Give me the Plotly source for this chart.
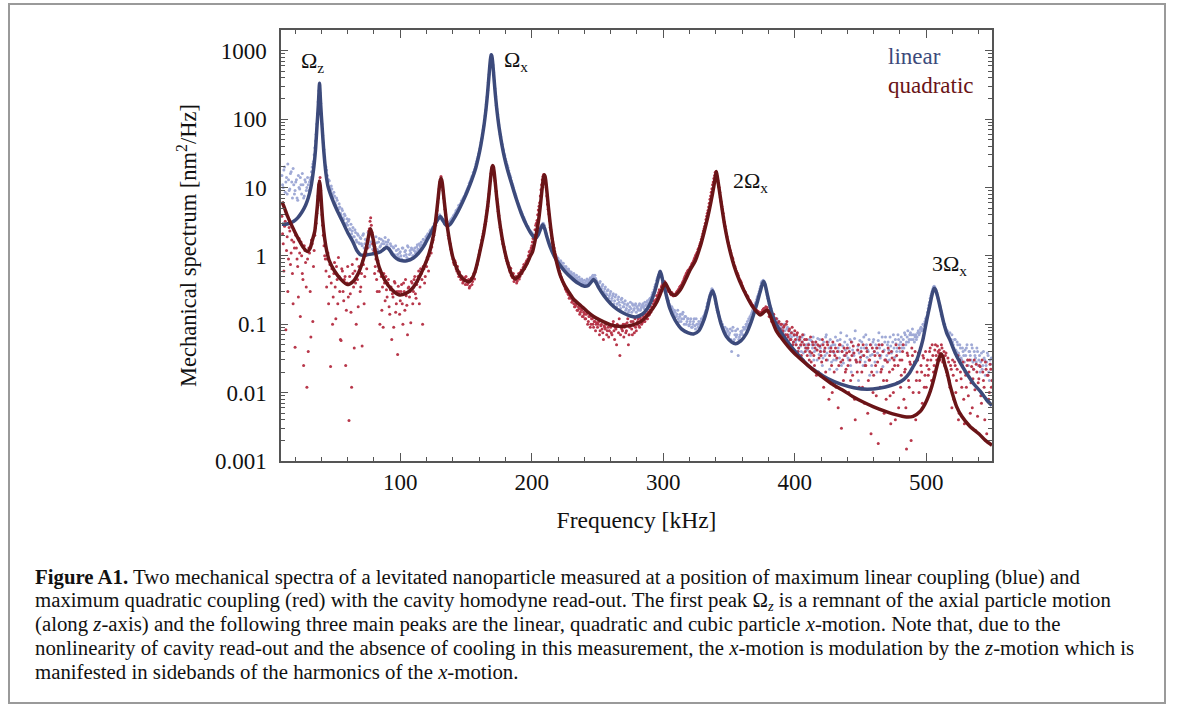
import plotly.graph_objects as go

# ---------------- data ----------------
# fitted curve, linear coupling (blue)
lin_f = [10, 13, 16, 19, 22, 25, 28, 30, 32, 34, 35.5, 36.7, 37.7, 38.2, 38.6, 39.0, 39.5, 40.5, 41.8, 43.5,
         45, 48, 52, 56, 60, 64, 67, 70, 74, 78, 82, 85, 87.5, 89.5, 91.5, 94, 97, 100, 105, 110,
         114, 118, 121, 124, 126.5, 128.5, 130.6, 132.5, 134.5, 136, 138, 140, 144, 148, 151, 154.3, 157.3, 159.3, 161.3, 163.3,
         164.3, 165.3, 166.3, 167.3, 167.8, 168.3, 168.8, 169.3, 169.8, 170.3, 170.8, 171.3, 172.3, 173.3, 174.3, 175.3, 177.3, 179.3, 181.3, 184.3,
         188, 192, 196, 200, 202.7, 205, 207, 208.3, 209.8, 211.5, 214, 217, 220, 225, 230, 235, 240, 243, 245.5, 247,
         248.5, 251, 255, 260, 265, 270, 275, 279, 284, 288, 291, 293.5, 295.5, 296.8, 297.7, 298.6, 300, 302, 305, 309,
         314, 319, 323, 327, 330.5, 333.5, 335.7, 337.5, 339, 341, 344, 348, 352, 355, 359, 363, 367, 370.5, 373.5, 375.4,
         376.3, 377.3, 379, 381, 384, 388, 392, 397, 403, 410, 417, 425, 435, 445, 455, 465, 473, 479, 483, 487,
         490, 492.8, 495, 497.5, 500.4, 502.5, 504, 505.2, 506, 507, 508.5, 510.5, 513, 515.5, 518, 522, 526, 530.8, 536, 541,
         546, 550]
lin_v = [2.9, 2.9, 3.0, 3.2, 3.6, 4.3, 5.5, 7, 10, 18, 35, 80, 160, 250, 335, 250, 160, 80, 35, 16,
         10.5, 7, 4.6, 3.2, 2.2, 1.6, 1.2, 1.03, 1.03, 1.06, 1.1, 1.15, 1.25, 1.33, 1.25, 1.05, 0.92, 0.86, 0.85, 0.93,
         1.1, 1.4, 1.8, 2.3, 2.9, 3.4, 3.75, 3.3, 2.85, 2.75, 2.9, 3.3, 4.5, 6.5, 8.8, 12.8, 19, 27, 42, 72,
         100, 146, 230, 390, 514, 664, 808, 870, 808, 664, 514, 390, 230, 146, 100, 72, 42, 27, 19, 12,
         7, 4.2, 2.8, 2.05, 1.8, 2.05, 2.55, 2.85, 2.5, 1.9, 1.35, 1.0, 0.8, 0.6, 0.48, 0.4, 0.36, 0.37, 0.42, 0.45,
         0.42, 0.34, 0.26, 0.2, 0.165, 0.145, 0.132, 0.128, 0.14, 0.17, 0.22, 0.3, 0.42, 0.53, 0.59, 0.53, 0.4, 0.28, 0.17, 0.115,
         0.085, 0.075, 0.072, 0.08, 0.11, 0.17, 0.26, 0.31, 0.26, 0.17, 0.1, 0.066, 0.055, 0.052, 0.057, 0.072, 0.11, 0.18, 0.29, 0.39,
         0.42, 0.39, 0.28, 0.19, 0.12, 0.085, 0.065, 0.048, 0.035, 0.025, 0.02, 0.016, 0.0133, 0.0118, 0.0112, 0.0117, 0.0127, 0.014, 0.0156, 0.019,
         0.024, 0.03, 0.04, 0.06, 0.116, 0.18, 0.25, 0.31, 0.337, 0.32, 0.26, 0.18, 0.11, 0.075, 0.059, 0.038, 0.027, 0.019, 0.0135, 0.0105,
         0.0078, 0.0065]

# fitted curve, quadratic coupling (red)
quad_f = [10, 12, 14, 17, 20, 23, 26, 29.3, 31.5, 33, 35, 36, 37, 37.6, 38.1, 38.6, 39.1, 39.6, 40.2, 41,
          42.5, 44, 46, 50, 55, 59.7, 64, 68, 71, 73, 74.8, 76, 77.4, 78.8, 80, 81.5, 84, 88, 93, 98.9,
          104, 109, 113, 117, 120, 122, 124, 126, 127, 128, 129, 130, 130.5, 131, 131.5, 132, 133, 134, 135, 136,
          138, 140, 143, 146, 149, 152.6, 155, 157, 159.3, 161.3, 163.3, 164.3, 165.3, 166.3, 167.3, 168.3, 169.3, 169.8, 170.3, 170.8,
          171.3, 172.3, 173.3, 174.3, 175.3, 177.3, 179.3, 182.3, 185, 187.6, 190, 193, 196, 199, 200.6, 202.6, 204.6, 205.6, 206.6, 207.6,
          208.6, 209.1, 209.6, 210.1, 210.6, 211.6, 212.6, 213.6, 214.6, 216.6, 218.6, 221.6, 225, 229, 232, 237, 242, 247, 252, 260,
          268, 276, 283, 288, 292, 295, 297.5, 299.5, 301.5, 303.5, 306, 309, 313, 317, 320.5, 324.4, 328.1, 331, 334, 336.5,
          338.5, 339.7, 340.4, 341.3, 342.5, 344.5, 347, 350, 354, 358, 363.6, 368, 373.7, 376.5, 379, 381, 383, 386, 389, 395,
          400, 407, 414, 420, 428, 436, 444, 452, 460, 468, 476, 485, 490, 495.3, 499, 502, 504.2, 506.5, 508.5, 510,
          511.3, 512.5, 514, 516, 518, 520, 523, 527, 533.3, 540, 545, 550]
quad_v = [6.2, 5.0, 3.9, 2.9, 2.2, 1.7, 1.35, 1.16, 1.3, 1.65, 2.3, 3.5, 5.5, 8, 10.7, 12.2, 10.7, 8, 5.3, 3.3,
          1.8, 1.2, 0.85, 0.6, 0.45, 0.38, 0.42, 0.55, 0.78, 1.05, 1.5, 2.0, 2.5, 2.0, 1.5, 1.05, 0.68, 0.45, 0.33, 0.27,
          0.28, 0.33, 0.43, 0.62, 0.85, 1.1, 1.55, 2.4, 3.4, 5, 7.6, 11.4, 12.9, 13.7, 12.9, 11.4, 7.6, 5, 3.4, 2.5,
          1.45, 0.95, 0.65, 0.5, 0.44, 0.42, 0.48, 0.6, 0.9, 1.35, 2.05, 2.7, 3.6, 5.0, 7.4, 11.6, 17.4, 20, 21, 20,
          17.4, 11.5, 7.3, 4.9, 3.4, 1.9, 1.2, 0.72, 0.52, 0.46, 0.5, 0.6, 0.75, 1.0, 1.15, 1.7, 2.8, 3.8, 5.6, 8.6,
          12.8, 14.6, 15.3, 14.6, 12.8, 8.4, 5.3, 3.5, 2.4, 1.3, 0.85, 0.52, 0.37, 0.28, 0.23, 0.19, 0.155, 0.13, 0.115, 0.098,
          0.093, 0.097, 0.11, 0.135, 0.17, 0.21, 0.27, 0.34, 0.4, 0.34, 0.28, 0.265, 0.32, 0.45, 0.63, 0.85, 1.37, 2.2, 3.8, 6.5,
          10.5, 14.5, 17.1, 13.5, 9.5, 5.2, 2.6, 1.35, 0.7, 0.43, 0.254, 0.18, 0.137, 0.15, 0.16, 0.14, 0.11, 0.08, 0.066, 0.047,
          0.037, 0.028, 0.0215, 0.0175, 0.0135, 0.011, 0.0088, 0.0073, 0.0062, 0.0054, 0.0048, 0.0044, 0.0045, 0.0053, 0.0068, 0.0092, 0.0123, 0.018, 0.026, 0.033,
          0.037, 0.034, 0.026, 0.0193, 0.013, 0.0095, 0.0063, 0.0045, 0.0032, 0.0025, 0.002, 0.0017]

# measured spectra: one value per kHz from 10 kHz, and a second sample set offset by half a kHz
lin_meas = [
    15, 10, 20, 12, 8, 13, 9.5, 17, 7, 11,
    9, 13, 6.5, 10, 14, 8, 11, 7.5, 12, 10,
    11, 12, 14, 20, 24, 38, 60, 120, 260, 240,
    120, 58, 36, 21, 18, 12, 12.5, 9, 9.5, 7,
    7.5, 5.5, 6.5, 4.8, 5.2, 4.0, 4.6, 3.4, 3.9, 3.0,
    2.8, 3.4, 2.4, 2.1, 2.6, 1.9, 2.2, 1.6, 2.0, 1.5,
    1.8, 1.4, 2.1, 1.5, 1.7, 1.3, 1.9, 1.45, 1.6, 1.25,
    1.7, 1.35, 1.55, 1.2, 1.8, 1.4, 1.5, 1.65, 1.3, 1.6,
    1.45, 1.7, 1.25, 1.4, 1.1, 1.3, 1.0, 1.2, 1.05, 0.95,
    1.15, 0.9, 1.3, 1.0, 1.2, 0.95, 1.35, 1.05, 1.1, 1.25,
    1.0, 1.3, 1.15, 1.45, 1.2, 1.4, 1.6, 1.3, 1.7, 1.5,
    1.8, 2.1, 1.9, 2.4, 2.3, 2.6, 3.0, 2.8, 3.3, 3.6,
    4.0, 3.6, 3.3, 3.4, 3.0, 2.9, 3.1, 2.8, 3.2, 3.3,
    3.5, 3.8, 4.3, 4.4, 5.0, 5.3, 5.9, 6.2, 7.0, 7.6,
    8.5, 9.5, 10.5, 12, 13.5, 15, 17, 20, 24, 28,
    33, 41, 52, 69, 95, 135, 210, 345, 600, 880,
    740, 480, 280, 160, 118, 82, 60, 47, 37, 31,
    26, 22, 19.5, 16, 14, 11.5, 10, 8.5, 7.5, 6.4,
    5.7, 5.0, 4.5, 3.9, 3.6, 3.2, 2.8, 2.7, 2.4, 2.3,
    2.2, 2.0, 1.95, 1.9, 2.0, 2.2, 2.4, 2.7, 2.9, 2.95,
    2.5, 2.1, 1.8, 1.6, 1.45, 1.3, 1.2, 1.15, 1.0, 0.98,
    0.92, 0.8, 0.85, 0.72, 0.78, 0.66, 0.7, 0.6, 0.64, 0.55,
    0.58, 0.5, 0.55, 0.47, 0.52, 0.44, 0.49, 0.42, 0.46, 0.4,
    0.44, 0.39, 0.46, 0.41, 0.45, 0.47, 0.5, 0.46, 0.52, 0.44,
    0.4, 0.36, 0.42, 0.33, 0.38, 0.3, 0.35, 0.27, 0.32, 0.26,
    0.3, 0.24, 0.28, 0.22, 0.27, 0.2, 0.25, 0.19, 0.23, 0.21,
    0.18, 0.22, 0.17, 0.2, 0.16, 0.21, 0.15, 0.19, 0.17, 0.2,
    0.18, 0.16, 0.2, 0.17, 0.19, 0.18, 0.21, 0.19, 0.22, 0.2,
    0.24, 0.25, 0.29, 0.32, 0.38, 0.44, 0.5, 0.58, 0.56, 0.48,
    0.4, 0.33, 0.3, 0.24, 0.22, 0.19, 0.16, 0.17, 0.14, 0.15,
    0.13, 0.16, 0.11, 0.14, 0.12, 0.15, 0.1, 0.13, 0.11, 0.12,
    0.1, 0.12, 0.09, 0.11, 0.095, 0.12, 0.1, 0.11, 0.1, 0.12,
    0.12, 0.13, 0.15, 0.18, 0.21, 0.25, 0.29, 0.33, 0.3, 0.26,
    0.2, 0.16, 0.15, 0.12, 0.11, 0.1, 0.085, 0.09, 0.075, 0.08,
    0.07, 0.085, 0.04, 0.09, 0.06, 0.08, 0.07, 0.035, 0.065, 0.078,
    0.08, 0.09, 0.085, 0.1, 0.11, 0.12, 0.13, 0.14, 0.16, 0.18,
    0.2, 0.23, 0.26, 0.3, 0.36, 0.42, 0.44, 0.4, 0.33, 0.27,
    0.22, 0.19, 0.17, 0.14, 0.13, 0.12, 0.1, 0.11, 0.095, 0.1,
    0.09, 0.075, 0.1, 0.07, 0.085, 0.065, 0.08, 0.06, 0.075, 0.055,
    0.07, 0.05, 0.065, 0.045, 0.06, 0.04, 0.055, 0.07, 0.045, 0.05,
    0.045, 0.06, 0.035, 0.05, 0.065, 0.04, 0.055, 0.03, 0.048, 0.06,
    0.04, 0.025, 0.055, 0.035, 0.07, 0.03, 0.045, 0.06, 0.028, 0.05,
    0.038, 0.065, 0.022, 0.045, 0.032, 0.075, 0.04, 0.027, 0.055, 0.035,
    0.05, 0.03, 0.06, 0.02, 0.042, 0.035, 0.08, 0.028, 0.048, 0.038,
    0.03, 0.055, 0.025, 0.045, 0.07, 0.033, 0.04, 0.018, 0.05, 0.036,
    0.06, 0.028, 0.045, 0.038, 0.075, 0.032, 0.05, 0.024, 0.042, 0.065,
    0.035, 0.055, 0.03, 0.048, 0.04, 0.07, 0.033, 0.052, 0.045, 0.06,
    0.04, 0.065, 0.05, 0.045, 0.07, 0.055, 0.08, 0.06, 0.075, 0.07,
    0.06, 0.055, 0.07, 0.065, 0.08, 0.075, 0.09, 0.085, 0.1, 0.11,
    0.12, 0.15, 0.19, 0.24, 0.28, 0.33, 0.36, 0.33, 0.29, 0.24,
    0.2, 0.16, 0.13, 0.11, 0.1, 0.085, 0.08, 0.07, 0.075, 0.06,
    0.055, 0.045, 0.06, 0.04, 0.05, 0.035, 0.045, 0.03, 0.04, 0.028,
    0.035, 0.05, 0.025, 0.04, 0.03, 0.045, 0.022, 0.035, 0.028, 0.04,
    0.03, 0.02, 0.038, 0.025, 0.032, 0.018, 0.028, 0.035, 0.015, 0.026,
    0.022]

lin_meas_half = [
    11, 18, 8.5, 14, 22, 9, 16, 12, 19, 8,
    12, 7, 15, 9.5, 11, 16, 7, 13, 9, 14,
    9, 13, 17, 22, 30, 48, 85, 180, 330, 170,
    85, 45, 28, 20, 15, 13, 10, 10.5, 8, 8.5,
    6, 7, 5, 5.8, 4.2, 4.9, 3.6, 4.1, 2.9, 3.5,
    3.2, 2.5, 2.9, 2.3, 1.9, 2.4, 1.7, 2.1, 1.55, 1.85,
    1.5, 2.0, 1.3, 1.75, 1.45, 2.2, 1.35, 1.6, 1.9, 1.4,
    1.45, 1.9, 1.25, 1.6, 1.35, 1.75, 1.2, 1.5, 1.85, 1.4,
    1.6, 1.3, 1.5, 1.15, 1.35, 1.05, 1.4, 0.95, 1.25, 1.1,
    1.0, 1.3, 0.85, 1.15, 1.05, 1.4, 0.9, 1.2, 1.3, 1.0,
    1.2, 1.1, 1.35, 1.25, 1.5, 1.3, 1.45, 1.75, 1.55, 1.9,
    2.0, 1.85, 2.3, 2.2, 2.6, 2.5, 2.9, 3.2, 3.5, 3.9,
    3.7, 3.4, 3.2, 2.95, 3.1, 2.8, 3.0, 3.15, 3.4, 3.6,
    3.9, 4.1, 4.6, 4.8, 5.5, 5.6, 6.4, 6.8, 7.3, 8.0,
    9.0, 10, 11.5, 12.8, 14.5, 16.5, 18.5, 22, 26, 31,
    37, 46, 60, 80, 112, 165, 265, 450, 740, 850,
    620, 360, 215, 140, 98, 70, 55, 43, 35, 29,
    24, 21, 17.5, 15, 12.5, 10.8, 9.2, 8, 6.9, 6.0,
    5.3, 4.7, 4.2, 3.7, 3.4, 3.0, 2.7, 2.55, 2.3, 2.15,
    2.1, 1.95, 1.9, 1.85, 2.05, 2.3, 2.55, 2.8, 3.0, 2.8,
    2.3, 1.95, 1.7, 1.5, 1.35, 1.25, 1.1, 1.05, 0.95, 0.9,
    0.85, 0.75, 0.8, 0.68, 0.7, 0.62, 0.65, 0.58, 0.6, 0.52,
    0.54, 0.47, 0.51, 0.44, 0.48, 0.41, 0.45, 0.39, 0.43, 0.38,
    0.4, 0.43, 0.38, 0.44, 0.48, 0.45, 0.52, 0.48, 0.47, 0.42,
    0.37, 0.4, 0.31, 0.36, 0.29, 0.33, 0.28, 0.31, 0.24, 0.28,
    0.22, 0.26, 0.2, 0.25, 0.18, 0.23, 0.21, 0.17, 0.24, 0.18,
    0.2, 0.16, 0.19, 0.15, 0.18, 0.17, 0.2, 0.16, 0.19, 0.15,
    0.17, 0.19, 0.16, 0.18, 0.2, 0.17, 0.19, 0.21, 0.2, 0.23,
    0.22, 0.27, 0.27, 0.35, 0.36, 0.47, 0.53, 0.6, 0.52, 0.44,
    0.36, 0.3, 0.26, 0.22, 0.2, 0.17, 0.18, 0.15, 0.16, 0.13,
    0.14, 0.12, 0.13, 0.11, 0.14, 0.12, 0.13, 0.1, 0.12, 0.095,
    0.11, 0.09, 0.1, 0.12, 0.085, 0.1, 0.09, 0.1, 0.11, 0.1,
    0.13, 0.14, 0.16, 0.2, 0.23, 0.27, 0.31, 0.32, 0.28, 0.22,
    0.18, 0.15, 0.13, 0.11, 0.095, 0.09, 0.08, 0.07, 0.085, 0.065,
    0.075, 0.06, 0.08, 0.055, 0.07, 0.065, 0.085, 0.06, 0.07, 0.075,
    0.07, 0.085, 0.09, 0.095, 0.1, 0.115, 0.125, 0.15, 0.17, 0.19,
    0.21, 0.25, 0.28, 0.33, 0.4, 0.43, 0.42, 0.37, 0.3, 0.24,
    0.2, 0.16, 0.15, 0.13, 0.11, 0.105, 0.12, 0.09, 0.1, 0.08,
    0.085, 0.07, 0.08, 0.06, 0.09, 0.055, 0.07, 0.065, 0.05, 0.068,
    0.055, 0.06, 0.04, 0.058, 0.048, 0.065, 0.038, 0.05, 0.06, 0.042,
    0.052, 0.038, 0.058, 0.045, 0.03, 0.05, 0.042, 0.062, 0.036, 0.045,
    0.05, 0.032, 0.042, 0.065, 0.038, 0.055, 0.022, 0.048, 0.04, 0.03,
    0.05, 0.03, 0.058, 0.04, 0.06, 0.025, 0.048, 0.035, 0.042, 0.068,
    0.032, 0.045, 0.025, 0.055, 0.038, 0.062, 0.03, 0.042, 0.015, 0.058,
    0.045, 0.035, 0.065, 0.028, 0.05, 0.042, 0.06, 0.035, 0.025, 0.055,
    0.04, 0.05, 0.02, 0.058, 0.045, 0.035, 0.065, 0.04, 0.055, 0.03,
    0.05, 0.042, 0.065, 0.038, 0.055, 0.045, 0.06, 0.04, 0.07, 0.05,
    0.055, 0.045, 0.06, 0.075, 0.05, 0.065, 0.055, 0.07, 0.06, 0.085,
    0.07, 0.065, 0.06, 0.075, 0.07, 0.085, 0.08, 0.1, 0.095, 0.12,
    0.13, 0.17, 0.21, 0.26, 0.3, 0.35, 0.35, 0.31, 0.27, 0.22,
    0.18, 0.14, 0.12, 0.1, 0.09, 0.08, 0.075, 0.065, 0.06, 0.07,
    0.05, 0.06, 0.042, 0.055, 0.038, 0.05, 0.032, 0.045, 0.035, 0.042,
    0.045, 0.03, 0.04, 0.035, 0.05, 0.028, 0.04, 0.032, 0.045, 0.025,
    0.035, 0.028, 0.022, 0.04, 0.03, 0.025, 0.038, 0.02, 0.03, 0.032]

quad_meas = [
    3.8, 1.5, 2.7, 0.083, 1.9, 0.9, 2.3, 1.1, 0.55, 1.6,
    0.046, 1.3, 0.7, 1.8, 0.13, 1.0, 0.45, 1.4, 0.8, 0.012,
    0.04, 1.1, 0.065, 1.5, 0.7, 2.0, 3.0, 5.2, 11, 14,
    5.5, 2.8, 1.4, 0.9, 0.35, 1.1, 0.5, 0.024, 0.65, 0.25,
    0.8, 0.12, 0.45, 0.95, 0.3, 0.058, 0.6, 0.22, 0.5, 0.16,
    0.7, 0.0039, 0.28, 0.012, 0.55, 0.045, 0.4, 0.9, 0.18, 0.6,
    0.35, 0.048, 0.75, 0.5, 1.1, 1.3, 2.3, 3.2, 2.8, 1.5,
    1.2, 0.7, 0.45, 0.85, 0.3, 0.6, 0.16, 0.09, 0.4, 0.5,
    0.25, 0.45, 0.14, 0.35, 0.28, 0.09, 0.4, 0.2, 0.036, 0.3,
    0.22, 0.38, 0.1, 0.3, 0.45, 0.19, 0.34, 0.25, 0.105, 0.4,
    0.3, 0.5, 0.24, 0.42, 0.6, 0.35, 0.55, 0.1, 0.65, 0.5,
    0.7, 0.9, 1.0, 1.25, 1.35, 1.7, 2.5, 3.1, 4.6, 7.0,
    12, 14.5, 10.5, 7.0, 4.8, 3.2, 2.6, 1.8, 1.5, 1.1,
    0.9, 0.75, 0.8, 0.6, 0.55, 0.58, 0.45, 0.5, 0.42, 0.48,
    0.5, 0.38, 0.45, 0.36, 0.47, 0.42, 0.55, 0.58, 0.7, 0.85,
    1.05, 1.3, 1.7, 2.1, 2.6, 3.2, 4.6, 6.3, 9.5, 16,
    20, 19.5, 12.5, 8.8, 5.3, 3.9, 2.6, 2.1, 1.5, 1.35,
    1.0, 0.85, 0.8, 0.62, 0.66, 0.5, 0.55, 0.45, 0.5, 0.43,
    0.55, 0.5, 0.62, 0.6, 0.75, 0.7, 0.85, 0.9, 1.15, 1.2,
    1.4, 1.8, 2.0, 2.8, 3.3, 4.7, 6.0, 9.3, 13, 15.5,
    14, 10, 5.7, 4.1, 2.6, 2.2, 1.6, 1.3, 1.05, 0.85,
    0.7, 0.6, 0.5, 0.45, 0.4, 0.36, 0.32, 0.3, 0.27, 0.26,
    0.24, 0.22, 0.2, 0.18, 0.2, 0.16, 0.17, 0.15, 0.16, 0.13,
    0.14, 0.12, 0.15, 0.11, 0.13, 0.1, 0.12, 0.09, 0.11, 0.1,
    0.09, 0.11, 0.08, 0.1, 0.075, 0.095, 0.085, 0.07, 0.09, 0.08,
    0.09, 0.07, 0.11, 0.06, 0.085, 0.1, 0.075, 0.035, 0.09, 0.08,
    0.065, 0.1, 0.08, 0.12, 0.07, 0.095, 0.085, 0.11, 0.075, 0.09,
    0.1, 0.12, 0.09, 0.115, 0.105, 0.13, 0.11, 0.14, 0.12, 0.135,
    0.16, 0.18, 0.17, 0.22, 0.21, 0.26, 0.27, 0.32, 0.3, 0.37,
    0.38, 0.42, 0.36, 0.35, 0.3, 0.3, 0.27, 0.28, 0.26, 0.27,
    0.29, 0.31, 0.33, 0.36, 0.38, 0.42, 0.47, 0.52, 0.57, 0.62,
    0.64, 0.7, 0.78, 0.85, 0.95, 1.05, 1.15, 1.3, 1.5, 1.75,
    2.1, 2.5, 3.0, 3.8, 4.6, 5.9, 7.5, 9.6, 12, 15,
    17, 14.5, 11.5, 8.5, 6.2, 4.8, 3.7, 2.7, 2.1, 1.7,
    1.4, 1.2, 1.0, 0.9, 0.72, 0.65, 0.57, 0.52, 0.45, 0.42,
    0.37, 0.33, 0.3, 0.27, 0.26, 0.23, 0.22, 0.2, 0.19, 0.18,
    0.17, 0.16, 0.155, 0.15, 0.145, 0.15, 0.165, 0.17, 0.18, 0.175,
    0.16, 0.15, 0.13, 0.12, 0.14, 0.1, 0.12, 0.09, 0.11, 0.085,
    0.1, 0.08, 0.095, 0.07, 0.11, 0.065, 0.085, 0.06, 0.09, 0.055,
    0.08, 0.05, 0.075, 0.045, 0.065, 0.035, 0.07, 0.05, 0.04, 0.06,
    0.045, 0.03, 0.065, 0.038, 0.05, 0.025, 0.055, 0.042, 0.02, 0.048,
    0.035, 0.06, 0.012, 0.045, 0.03, 0.05, 0.008, 0.04, 0.025, 0.055,
    0.02, 0.045, 0.032, 0.006, 0.05, 0.028, 0.04, 0.015, 0.035, 0.022,
    0.045, 0.01, 0.03, 0.055, 0.018, 0.038, 0.004, 0.028, 0.042, 0.012,
    0.033, 0.02, 0.05, 0.007, 0.025, 0.04, 0.015, 0.03, 0.0025, 0.045,
    0.018, 0.035, 0.009, 0.028, 0.05, 0.012, 0.022, 0.04, 0.005, 0.03,
    0.015, 0.045, 0.02, 0.0035, 0.032, 0.01, 0.025, 0.05, 0.014, 0.006,
    0.03, 0.018, 0.04, 0.008, 0.022, 0.0015, 0.035, 0.012, 0.026, 0.045,
    0.01, 0.028, 0.004, 0.02, 0.038, 0.015, 0.025, 0.007, 0.032, 0.018,
    0.012, 0.03, 0.022, 0.045, 0.015, 0.035, 0.025, 0.05, 0.03, 0.04,
    0.042, 0.035, 0.045, 0.03, 0.025, 0.038, 0.018, 0.028, 0.012, 0.022,
    0.03, 0.008, 0.025, 0.015, 0.035, 0.005, 0.02, 0.012, 0.028, 0.0035,
    0.018, 0.025, 0.009, 0.03, 0.014, 0.006, 0.022, 0.011, 0.026, 0.0045,
    0.016, 0.024, 0.007, 0.02, 0.012, 0.028, 0.0025, 0.018, 0.01, 0.022,
    0.015]

quad_meas_half = [
    2.1, 0.6, 3.2, 1.2, 0.3, 2.6, 0.75, 1.7, 0.2, 1.3,
    2.0, 0.9, 0.25, 1.1, 1.6, 0.55, 0.025, 1.2, 0.35, 0.9,
    1.3, 0.3, 1.7, 0.11, 1.2, 2.6, 4.2, 7.5, 12.5, 9,
    4.0, 2.0, 1.0, 0.6, 0.9, 0.2, 0.75, 0.4, 0.1, 0.55,
    0.35, 0.7, 0.2, 0.5, 0.06, 0.65, 0.3, 0.45, 0.025, 0.4,
    0.25, 0.5, 0.15, 0.75, 0.35, 0.6, 0.1, 0.45, 0.7, 0.3,
    0.55, 0.85, 0.2, 1.0, 0.65, 1.7, 2.5, 3.6, 2.2, 1.1,
    0.55, 0.9, 0.3, 0.6, 0.1, 0.5, 0.35, 0.55, 0.22, 0.32,
    0.4, 0.18, 0.32, 0.06, 0.25, 0.42, 0.15, 0.3, 0.36, 0.14,
    0.3, 0.2, 0.4, 0.16, 0.26, 0.07, 0.35, 0.3, 0.42, 0.2,
    0.45, 0.28, 0.38, 0.5, 0.2, 0.65, 0.45, 0.7, 0.4, 0.8,
    0.95, 0.6, 1.2, 1.1, 1.6, 2.0, 2.9, 4.0, 6.0, 9.5,
    13, 12, 9, 6.0, 4.0, 2.9, 2.0, 1.7, 1.25, 1.0,
    0.8, 0.85, 0.65, 0.7, 0.5, 0.52, 0.47, 0.4, 0.46, 0.38,
    0.44, 0.4, 0.34, 0.44, 0.38, 0.5, 0.46, 0.65, 0.75, 0.95,
    1.2, 1.45, 1.9, 2.3, 2.9, 3.8, 5.3, 8, 12.5, 19,
    20.5, 15, 10.5, 6.8, 4.5, 3.2, 2.4, 1.75, 1.45, 1.15,
    0.92, 0.78, 0.7, 0.58, 0.52, 0.48, 0.42, 0.47, 0.4, 0.48,
    0.46, 0.58, 0.55, 0.68, 0.65, 0.8, 0.78, 1.0, 1.05, 1.3,
    1.6, 1.9, 2.4, 3.0, 4.0, 5.3, 7.5, 11, 14.5, 15,
    12, 7.5, 4.8, 3.3, 2.4, 1.8, 1.45, 1.15, 0.95, 0.78,
    0.66, 0.55, 0.48, 0.42, 0.38, 0.33, 0.3, 0.28, 0.24, 0.25,
    0.21, 0.23, 0.18, 0.19, 0.16, 0.18, 0.14, 0.17, 0.13, 0.15,
    0.12, 0.14, 0.1, 0.13, 0.09, 0.12, 0.1, 0.11, 0.08, 0.105,
    0.1, 0.07, 0.095, 0.085, 0.06, 0.09, 0.1, 0.08, 0.065, 0.095,
    0.075, 0.1, 0.08, 0.09, 0.05, 0.095, 0.12, 0.07, 0.085, 0.1,
    0.09, 0.075, 0.105, 0.05, 0.09, 0.11, 0.07, 0.095, 0.12, 0.08,
    0.11, 0.095, 0.125, 0.1, 0.12, 0.11, 0.14, 0.12, 0.15, 0.14,
    0.15, 0.17, 0.2, 0.19, 0.23, 0.24, 0.29, 0.3, 0.35, 0.4,
    0.41, 0.38, 0.37, 0.32, 0.32, 0.28, 0.29, 0.26, 0.27, 0.28,
    0.3, 0.32, 0.35, 0.37, 0.4, 0.44, 0.5, 0.55, 0.6, 0.6,
    0.68, 0.74, 0.8, 0.9, 1.0, 1.1, 1.25, 1.4, 1.6, 1.9,
    2.3, 2.7, 3.4, 4.2, 5.2, 6.7, 8.5, 11, 13.5, 16.5,
    16, 12.5, 10, 7.2, 5.3, 4.2, 3.1, 2.4, 1.9, 1.55,
    1.3, 1.1, 0.95, 0.8, 0.7, 0.6, 0.55, 0.48, 0.44, 0.4,
    0.35, 0.31, 0.29, 0.26, 0.25, 0.22, 0.21, 0.19, 0.18, 0.17,
    0.16, 0.155, 0.15, 0.14, 0.15, 0.16, 0.17, 0.165, 0.17, 0.16,
    0.13, 0.15, 0.11, 0.13, 0.1, 0.12, 0.095, 0.105, 0.08, 0.1,
    0.075, 0.09, 0.065, 0.1, 0.07, 0.08, 0.06, 0.075, 0.05, 0.07,
    0.06, 0.07, 0.04, 0.06, 0.05, 0.055, 0.03, 0.06, 0.045, 0.035,
    0.05, 0.04, 0.028, 0.055, 0.035, 0.045, 0.018, 0.05, 0.032, 0.04,
    0.028, 0.05, 0.04, 0.02, 0.055, 0.015, 0.035, 0.045, 0.01, 0.04,
    0.035, 0.012, 0.04, 0.025, 0.05, 0.003, 0.03, 0.045, 0.02, 0.038,
    0.025, 0.04, 0.015, 0.035, 0.048, 0.008, 0.03, 0.02, 0.05, 0.028,
    0.04, 0.012, 0.035, 0.025, 0.045, 0.005, 0.03, 0.05, 0.02, 0.01,
    0.04, 0.025, 0.045, 0.0018, 0.035, 0.02, 0.05, 0.015, 0.03, 0.008,
    0.028, 0.038, 0.009, 0.04, 0.022, 0.03, 0.004, 0.035, 0.025, 0.045,
    0.012, 0.03, 0.05, 0.02, 0.006, 0.038, 0.015, 0.028, 0.002, 0.035,
    0.025, 0.04, 0.015, 0.03, 0.01, 0.045, 0.02, 0.035, 0.012, 0.04,
    0.025, 0.018, 0.04, 0.03, 0.05, 0.02, 0.042, 0.035, 0.048, 0.038,
    0.03, 0.05, 0.028, 0.04, 0.035, 0.02, 0.032, 0.015, 0.025, 0.006,
    0.018, 0.028, 0.01, 0.022, 0.004, 0.03, 0.016, 0.025, 0.008, 0.02,
    0.012, 0.03, 0.02, 0.005, 0.024, 0.016, 0.03, 0.0028, 0.02, 0.014,
    0.025, 0.009, 0.03, 0.015, 0.004, 0.022, 0.018, 0.008, 0.026, 0.012]

meas_start_khz = 10
lin_meas_f = list(range(meas_start_khz, meas_start_khz + len(lin_meas)))
quad_meas_f = list(range(meas_start_khz, meas_start_khz + len(quad_meas)))
lin_half_f = [f + 0.5 for f in range(meas_start_khz, meas_start_khz + len(lin_meas_half))]
quad_half_f = [f + 0.5 for f in range(meas_start_khz, meas_start_khz + len(quad_meas_half))]

x_ticks = [100, 200, 300, 400, 500]
y_ticks = [0.001, 0.01, 0.1, 1, 10, 100, 1000]
y_ticktext = ["0.001", "0.01", "0.1", "1", "10", "100", "1000"]

caption_lines = [
    "<b>Figure A1.</b> Two mechanical spectra of a levitated nanoparticle measured at a position of maximum linear coupling (blue) and",
    "maximum quadratic coupling (red) with the cavity homodyne read-out. The first peak Ω<sub><i>z</i></sub> is a remnant of the axial particle motion",
    "(along <i>z</i>-axis) and the following three main peaks are the linear, quadratic and cubic particle <i>x</i>-motion. Note that, due to the",
    "nonlinearity of cavity read-out and the absence of cooling in this measurement, the <i>x</i>-motion is modulation by the <i>z</i>-motion which is",
    "manifested in sidebands of the harmonics of the <i>x</i>-motion.",
]

# ---------------- styling ----------------
W, H = 1182, 706
L, R, T, B = 281, 992, 30, 461
FONT = "Liberation Serif, Times New Roman, serif"
BLUE_LINE = "#3c4a7b"
RED_LINE = "#6a1417"
BLUE_PTS = "#a0aad6"
RED_PTS = "#b8374a"
AXIS_COL = "#555555"


def px(xp):
    return (xp - L) / (R - L)


def py(yp):
    return (B - yp) / (B - T)


fig = go.Figure()
for fx, fy, col in [(lin_meas_f, lin_meas, BLUE_PTS), (lin_half_f, lin_meas_half, BLUE_PTS),
                    (quad_meas_f, quad_meas, RED_PTS), (quad_half_f, quad_meas_half, RED_PTS)]:
    fig.add_trace(go.Scatter(x=fx, y=fy, mode="markers", marker=dict(color=col, size=3),
                             hoverinfo="skip"))
fig.add_trace(go.Scatter(x=lin_f, y=lin_v, mode="lines",
                         line=dict(color=BLUE_LINE, width=3.5, shape="spline", smoothing=0.7)))
fig.add_trace(go.Scatter(x=quad_f, y=quad_v, mode="lines",
                         line=dict(color=RED_LINE, width=3.5, shape="spline", smoothing=0.7)))

axis_common = dict(showgrid=False, zeroline=False, showline=True, linecolor=AXIS_COL, linewidth=1.5,
                   mirror="allticks", ticks="inside", tickcolor=AXIS_COL, tickwidth=1,
                   tickfont=dict(family=FONT, size=23, color="#111"))

fig.update_xaxes(range=[9.3, 550], tickmode="array", tickvals=x_ticks, ticklen=8,
                 minor=dict(dtick=20, tick0=0, ticks="inside", ticklen=4, tickcolor=AXIS_COL, showgrid=False),
                 title=dict(text="Frequency [kHz]", font=dict(family=FONT, size=23.5, color="#111"), standoff=17),
                 **axis_common)
fig.update_yaxes(type="log", range=[-3, 3.303], tickmode="array", tickvals=y_ticks, ticktext=y_ticktext,
                 ticklen=7, ticklabelstandoff=8,
                 minor=dict(dtick="D1", ticks="inside", ticklen=4, tickcolor=AXIS_COL, showgrid=False),
                 title=dict(text="Mechanical spectrum [nm<sup>2</sup>/Hz]", font=dict(family=FONT, size=22.5, color="#111"),
                            standoff=12),
                 **axis_common)

ann = []
pk_font = dict(family=FONT, size=22, color="#111")
for text, xl, yc in [("Ω<sub>z</sub>", 299, 62), ("Ω<sub>x</sub>", 502, 61),
                     ("2Ω<sub>x</sub>", 731, 182), ("3Ω<sub>x</sub>", 930, 265)]:
    ann.append(dict(text=text, x=px(xl), y=py(yc), xref="paper", yref="paper", xanchor="left",
                    yanchor="middle", showarrow=False, font=pk_font))
ann.append(dict(text="linear", x=px(886), y=py(57), xref="paper", yref="paper", xanchor="left",
                yanchor="middle", showarrow=False, font=dict(family=FONT, size=23, color=BLUE_LINE)))
ann.append(dict(text="quadratic", x=px(886), y=py(85), xref="paper", yref="paper", xanchor="left",
                yanchor="middle", showarrow=False, font=dict(family=FONT, size=23, color=RED_LINE)))
for i, line in enumerate(caption_lines):
    ann.append(dict(text=line, x=px(33), y=py(577 + i * 23.7), xref="paper", yref="paper", xanchor="left",
                    yanchor="middle", showarrow=False, align="left",
                    font=dict(family=FONT, size=20.8, color="#111")))

fig.update_layout(
    width=W, height=H, margin=dict(l=L, r=W - R, t=T, b=H - B),
    paper_bgcolor="white", plot_bgcolor="white", showlegend=False,
    font=dict(family=FONT, color="#111"),
    annotations=ann,
    shapes=[dict(type="rect", xref="paper", yref="paper", x0=px(9), x1=px(1165), y0=py(703), y1=py(4),
                 line=dict(color="#9a9a9a", width=2), fillcolor="rgba(0,0,0,0)", layer="below")],
)

fig.write_html("out.html", config={"displayModeBar": False},
               post_script="document.body.style.margin='0px';")
